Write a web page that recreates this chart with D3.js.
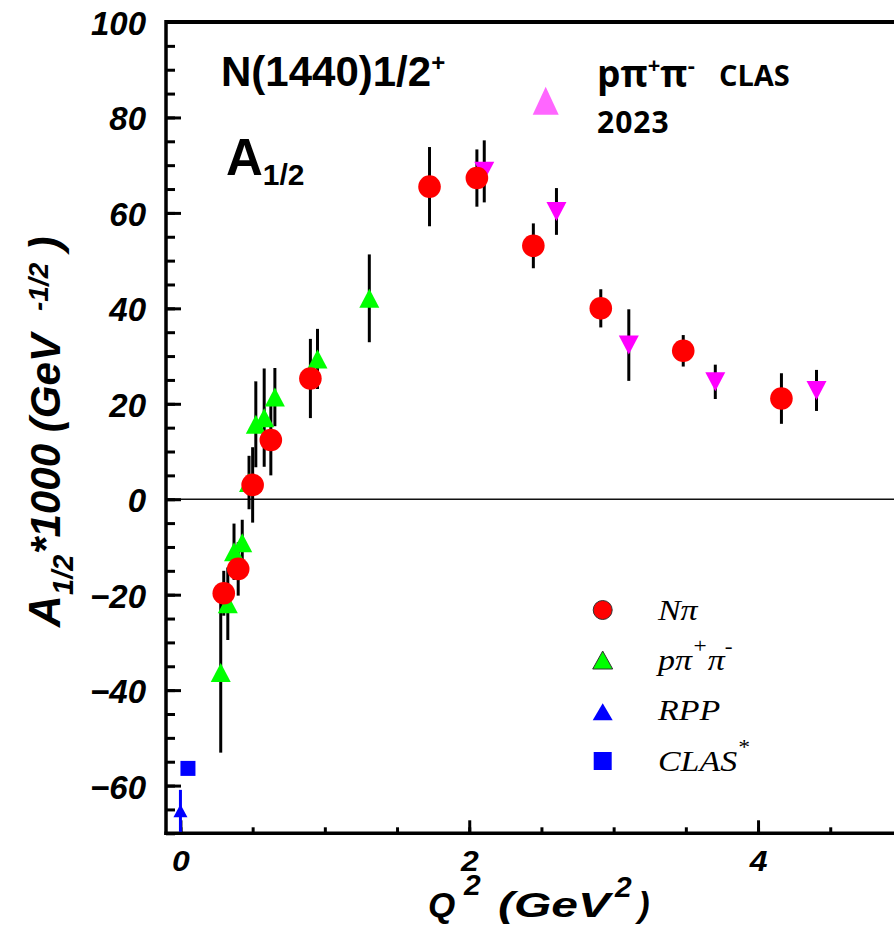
<!DOCTYPE html>
<html><head><meta charset="utf-8">
<script src="https://cdn.jsdelivr.net/npm/d3@7"></script>
<style>html,body{margin:0;padding:0;background:#fff;} svg{display:block;}</style>
</head><body><svg id="chart" width="894" height="926"></svg>
<script>
// N(1440)1/2+ helicity amplitude A1/2 (x1000, GeV^-1/2) versus Q^2 (GeV^2)

// N pi electroproduction
const npiQ2  = [0.30, 0.40, 0.50, 0.626, 0.90, 1.725, 2.053, 2.444, 2.911, 3.482, 4.162];
const npiA   = [-19.7, -14.6, 3.0, 12.4, 25.3, 65.5, 67.3, 53.1, 40.0, 31.1, 21.1];
const npiErr = [4.7, 5.6, 7.9, 7.4, 8.3, 8.3, 6.0, 4.7, 4.0, 3.3, 5.3];

// p pi+ pi- electroproduction
const ppipiQ2  = [0.279, 0.328, 0.371, 0.428, 0.475, 0.522, 0.58, 0.654, 0.949, 1.308];
const ppipiA   = [-36.3, -21.9, -11.0, -9.1, 3.5, 15.7, 17.1, 21.4, 29.4, 42.1];
const ppipiErr = [16.8, 7.6, 5.9, 4.8, 5.6, 9.0, 10.3, 6.1, 6.3, 9.2];

// p pi+ pi- CLAS 2023
const clas23Q2  = [2.104, 2.604, 3.105, 3.704, 4.405];
const clas23A   = [68.7, 60.3, 32.3, 24.6, 22.8];
const clas23Err = [6.5, 4.9, 7.5, 3.6, 4.3];

// photon point: RPP and CLAS*
const rppQ2 = [0], rppA = [-65.3], rppErr = [4.4];
const clasStarQ2 = [0.052], clasStarA = [-56.4];

// axis ticks
const yMajor = [-60, -40, -20, 0, 20, 40, 60, 80, 100];
const yMinor = d3.range(-70, 100.1, 5);
const xMajor = [0, 2, 4];
const xMinor = d3.range(0, 4.6, 0.5);

const svg = d3.select("#chart");
const W = 894, H = 926;

const x = d3.scaleLinear().domain([-0.1, 5.0]).range([166, 166 + 5.1 * 144.4]);
const y = d3.scaleLinear().domain([-70, 100]).range([833.3, 22]);

const sansBI = "'Liberation Sans', Arial, sans-serif";
const serif = "'Liberation Serif', 'Times New Roman', serif";
const calib = "'Open Sans', 'Noto Sans', sans-serif";

// zero line
svg.append("line")
  .attr("x1", x(-0.1)).attr("x2", W + 5)
  .attr("y1", y(0)).attr("y2", y(0))
  .attr("stroke", "#111").attr("stroke-width", 1.5);

// top frame line
svg.append("line").attr("x1", 166).attr("x2", W + 5).attr("y1", y(100)).attr("y2", y(100))
  .attr("stroke", "#000").attr("stroke-width", 4);

// tick marks (inward)
function tickGroup(axis, tr) {
  const g = svg.append("g").attr("transform", tr).call(axis);
  g.select(".domain").remove();
  g.selectAll(".tick line").attr("stroke", "#000").attr("stroke-width", 3);
  g.selectAll("text").remove();
  return g;
}
tickGroup(d3.axisRight(y).tickValues(yMinor).tickSize(9), `translate(${x(-0.1)},0)`);
tickGroup(d3.axisRight(y).tickValues(yMajor).tickSize(15), `translate(${x(-0.1)},0)`);
tickGroup(d3.axisTop(x).tickValues(xMinor).tickSize(6), `translate(0,${y(-70)})`);
tickGroup(d3.axisTop(x).tickValues(xMajor).tickSize(13), `translate(0,${y(-70)})`);

// axis lines
svg.append("line").attr("x1", x(-0.1)).attr("x2", x(-0.1)).attr("y1", y(100) - 2).attr("y2", y(-70) + 1.7)
  .attr("stroke", "#000").attr("stroke-width", 3.5);
svg.append("line").attr("x1", x(-0.1) - 1.7).attr("x2", W + 5).attr("y1", y(-70)).attr("y2", y(-70))
  .attr("stroke", "#000").attr("stroke-width", 3.5);

// tick labels
const yLab = svg.append("g").attr("transform", `translate(${x(-0.1)},0)`)
  .call(d3.axisLeft(y).tickValues(yMajor).tickSize(0).tickPadding(20).tickFormat(d3.format("d")));
yLab.select(".domain").remove();
yLab.selectAll("text").attr("font-family", sansBI).attr("font-weight", "bold")
  .attr("font-style", "italic").attr("font-size", 33).attr("fill", "#000").attr("dy", "0.38em");

const xLab = svg.append("g").attr("transform", `translate(0,${y(-70)})`)
  .call(d3.axisBottom(x).tickValues(xMajor).tickSize(0).tickPadding(17).tickFormat(d3.format("d")));
xLab.select(".domain").remove();
xLab.selectAll("text").attr("font-family", sansBI).attr("font-weight", "bold")
  .attr("font-style", "italic").attr("font-size", 29).attr("fill", "#000")
  .attr("transform", "scale(1.1,1)");

// axis titles
function titleText(parent, tx, ty, size, str) {
  return parent.append("text").attr("x", tx).attr("y", ty)
    .attr("font-family", sansBI).attr("font-weight", "bold").attr("font-style", "italic")
    .attr("font-size", size).attr("fill", "#000").text(str);
}
// vertical title, laid out along the rotated baseline (x = -screen y)
const yt = svg.append("g").attr("transform", "translate(60,0) rotate(-90)");
titleText(yt, -627, 0, 44, "A");
titleText(yt, -595, 13, 29, "1/2");
titleText(yt, -554, 0, 43, "*1000 (GeV").attr("textLength", 220).attr("lengthAdjust", "spacingAndGlyphs");
titleText(yt, -311, -12, 28, "-1/2");
titleText(yt, -251, 0, 44, ")");

// horizontal title
titleText(svg, 428, 916.7, 35, "Q");
titleText(svg, 464, 895, 30, "2");
titleText(svg, 498, 916.7, 35, "(GeV").attr("textLength", 112).attr("lengthAdjust", "spacingAndGlyphs");
titleText(svg, 615, 897, 30, "2");
titleText(svg, 638, 916.7, 35, ")");

// error bars
function errBars(qs, as, es, color) {
  svg.append("g").selectAll("line").data(qs).join("line")
    .attr("x1", (d) => x(d)).attr("x2", (d) => x(d))
    .attr("y1", (d, i) => y(as[i] + es[i]))
    .attr("y2", (d, i) => Math.min(y(as[i] - es[i]), y(-70)))
    .attr("stroke", color).attr("stroke-width", 3);
}
errBars(ppipiQ2, ppipiA, ppipiErr, "#000");
errBars(npiQ2, npiA, npiErr, "#000");
errBars(clas23Q2, clas23A, clas23Err, "#000");
errBars(rppQ2, rppA, rppErr, "#0000ff");

// marker shapes
const triUp = (cx, cy, w, h) => `M${cx - w / 2},${cy + h / 2}L${cx + w / 2},${cy + h / 2}L${cx},${cy - h / 2}Z`;
const triDown = (cx, cy, w, h) => `M${cx - w / 2},${cy - h / 2}L${cx + w / 2},${cy - h / 2}L${cx},${cy + h / 2}Z`;

svg.append("g").selectAll("path").data(ppipiQ2).join("path")
  .attr("d", (d, i) => triUp(x(d), y(ppipiA[i]), 20, 19))
  .attr("fill", "#00ff00");

svg.append("g").selectAll("path").data(clas23Q2).join("path")
  .attr("d", (d, i) => triDown(x(d), y(clas23A[i]), 20, 19))
  .attr("fill", "#ff00ff");

svg.append("g").selectAll("circle").data(npiQ2).join("circle")
  .attr("cx", (d) => x(d)).attr("cy", (d, i) => y(npiA[i])).attr("r", 11.3)
  .attr("fill", "#ff0000");

svg.append("g").selectAll("path").data(rppQ2).join("path")
  .attr("d", (d, i) => triUp(x(d), y(rppA[i]), 14, 13))
  .attr("fill", "#0000ff");

svg.append("g").selectAll("rect").data(clasStarQ2).join("rect")
  .attr("x", (d) => x(d) - 7.5).attr("y", (d, i) => y(clasStarA[i]) - 7.5)
  .attr("width", 15).attr("height", 15).attr("fill", "#0000ff");

// resonance label
const title = svg.append("text").attr("x", 221).attr("y", 86)
  .attr("font-family", sansBI).attr("font-weight", "bold").attr("font-size", 42).attr("fill", "#000");
title.append("tspan").text("N(1440)1/2");
title.append("tspan").attr("font-size", 24).attr("dy", -15).text("+");

const amp = svg.append("text").attr("x", 226).attr("y", 175)
  .attr("font-family", sansBI).attr("font-weight", "bold").attr("font-size", 51).attr("fill", "#000");
amp.append("tspan").text("A");
amp.append("tspan").attr("font-size", 30).attr("dy", 10).text("1/2");

// CLAS 2023 key
svg.append("path").attr("d", triUp(545.7, 100.8, 26, 28)).attr("fill", "#ff66ff");
const k = svg.append("text").attr("x", 597).attr("y", 86.5)
  .attr("font-family", calib).attr("font-weight", "bold").attr("font-size", 37).attr("fill", "#000");
k.append("tspan").text("p\u03c0");
k.append("tspan").attr("font-size", 22).attr("dy", -14).text("+");
k.append("tspan").attr("dy", 14).text("\u03c0");
k.append("tspan").attr("font-size", 22).attr("dy", -14).text("-");
svg.append("text").attr("x", 719).attr("y", 86)
  .attr("font-family", calib).attr("font-weight", "bold").attr("font-size", 29).attr("fill", "#000")
  .text("CLAS");
svg.append("text").attr("x", 597).attr("y", 133.3)
  .attr("font-family", calib).attr("font-weight", "bold").attr("font-size", 30).attr("fill", "#000")
  .attr("letter-spacing", 1).text("2023");

// legend
const legX = 602.7, legTx = 658;
svg.append("circle").attr("cx", legX).attr("cy", 610).attr("r", 9.5)
  .attr("fill", "#ff0000").attr("stroke", "#333").attr("stroke-width", 1);
svg.append("path").attr("d", triUp(legX, 660, 20, 18)).attr("fill", "#00ff00")
  .attr("stroke", "#333").attr("stroke-width", 1);
svg.append("path").attr("d", triUp(legX, 711.7, 20, 17)).attr("fill", "#0000ff");
svg.append("rect").attr("x", legX - 9).attr("y", 761 - 9).attr("width", 18).attr("height", 18).attr("fill", "#0000ff");

const lt = (yy) => svg.append("text").attr("transform", `translate(${legTx},${yy}) scale(1.17,1)`)
  .attr("font-family", serif).attr("font-style", "italic").attr("font-size", 29).attr("fill", "#000");
lt(620).text("N\u03c0");
const l2 = lt(670);
l2.append("tspan").text("p\u03c0");
l2.append("tspan").attr("font-size", 20).attr("dy", -17).text("+");
l2.append("tspan").attr("dy", 17).text("\u03c0");
l2.append("tspan").attr("font-size", 20).attr("dy", -17).text("-");
lt(720).text("RPP");
const l4 = lt(770.7);
l4.append("tspan").text("CLAS");
l4.append("tspan").attr("font-size", 20).attr("dy", -17).text("*");
</script>
</body></html>
